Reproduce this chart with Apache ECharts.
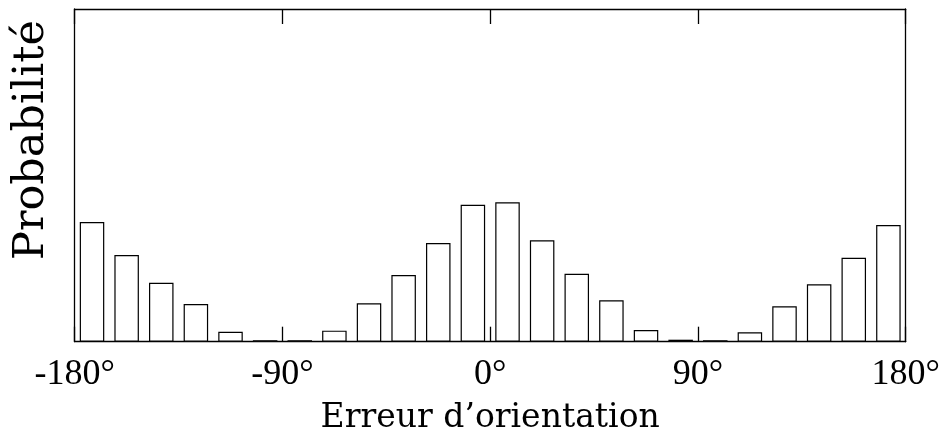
<!DOCTYPE html>
<html>
<head>
<meta charset="utf-8">
<script src="https://cdn.jsdelivr.net/npm/echarts@6/dist/echarts.min.js"></script>
<style>html,body{margin:0;padding:0;background:#fff;}#c{width:940px;height:437px;}</style>
</head>
<body>
<div id="c"></div>
<script>
const binCenters = [-172.5,-157.5,-142.5,-127.5,-112.5,-97.5,-82.5,-67.5,-52.5,-37.5,-22.5,-7.5,
                    7.5,22.5,37.5,52.5,67.5,82.5,97.5,112.5,127.5,142.5,157.5,172.5];
const probabilities = [0.0899,0.0651,0.0443,0.0283,0.0075,0.0011,0.0011,0.0083,0.0289,0.0501,0.0742,0.1029,
                       0.1047,0.0762,0.0511,0.0311,0.0088,0.0015,0.0011,0.0071,0.0266,0.0431,0.0631,0.0877];
const xTicks = [-180,-90,0,90,180];
const xName = 'Erreur d\u2019orientation';
const yName = 'Probabilité';

const font = 'DejaVu Serif';
const tickFont = 'Liberation Serif';
const chart = echarts.init(document.getElementById('c'));
const barData = binCenters.map((x, i) => [x, probabilities[i]]);
const lineStyle = {color: '#000', width: 1.3};
chart.setOption({
  animation: false,
  backgroundColor: '#fff',
  grid: {left: 74.7, right: 34.3, top: 9, bottom: 95.3, show: false, containLabel: false, outerBoundsMode: 'none'},
  graphic: [{
    type: 'text', left: 10, top: 20,
    rotation: Math.PI / 2,
    style: {text: yName, fontFamily: font, fontSize: 43, fill: '#000'}
  }],
  xAxis: [{
    type: 'value', min: xTicks[0], max: xTicks[xTicks.length-1], interval: 90,
    position: 'bottom',
    axisLine: {show: true, onZero: false, lineStyle: lineStyle},
    axisTick: {show: true, inside: true, length: 15, lineStyle: lineStyle},
    axisLabel: {show: true, margin: 15, fontFamily: tickFont, fontSize: 36, color: '#000',
      formatter: v => v + '°'},
    splitLine: {show: false},
    name: xName, nameLocation: 'middle', nameGap: 60,
    nameTextStyle: {fontFamily: font, fontSize: 33, color: '#000'}
  }, {
    type: 'value', min: xTicks[0], max: xTicks[xTicks.length-1], interval: 90,
    position: 'top',
    axisLine: {show: true, onZero: false, lineStyle: lineStyle},
    axisTick: {show: true, inside: true, length: 15, lineStyle: lineStyle},
    axisLabel: {show: false},
    splitLine: {show: false}
  }],
  yAxis: [{
    type: 'value', min: 0, max: 0.25,
    position: 'left',
    axisLine: {show: true, onZero: false, lineStyle: lineStyle},
    axisTick: {show: false}, axisLabel: {show: false}, splitLine: {show: false}
  }, {
    type: 'value', min: 0, max: 0.25,
    position: 'right',
    axisLine: {show: true, onZero: false, lineStyle: lineStyle},
    axisTick: {show: false}, axisLabel: {show: false}, splitLine: {show: false}
  }],
  series: [{
    type: 'bar',
    xAxisIndex: 0, yAxisIndex: 0,
    data: barData,
    barWidth: 24.5,
    itemStyle: {color: '#fff', borderColor: '#000', borderWidth: 1.2}
  }]
});
</script>
</body>
</html>
